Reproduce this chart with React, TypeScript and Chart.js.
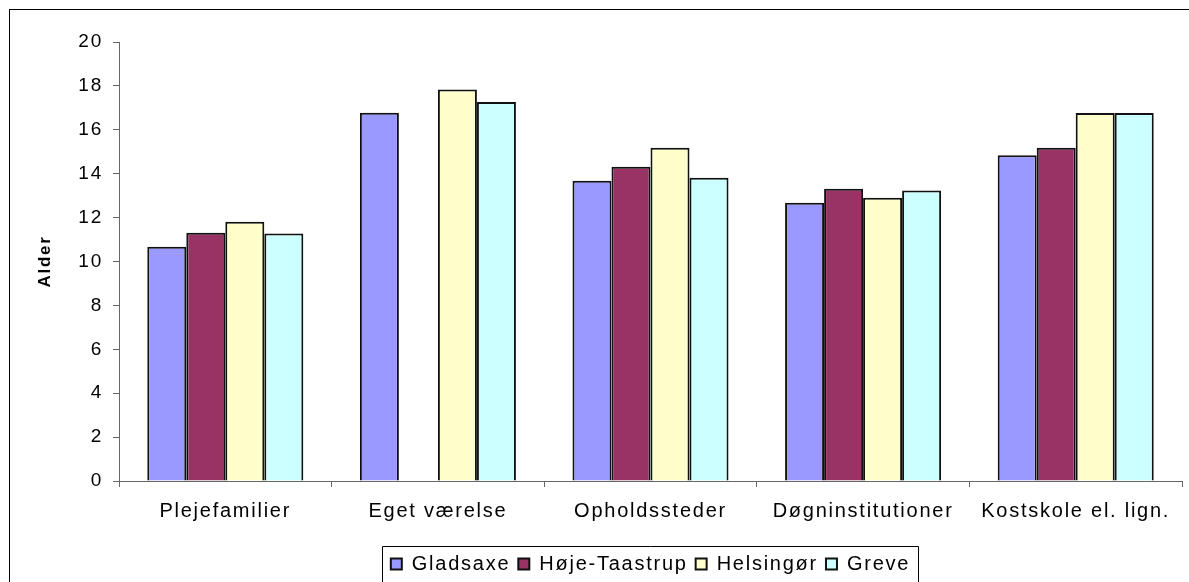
import React, { useEffect, useRef } from 'react';
import { Chart, registerables } from 'chart.js';

Chart.register(...registerables);

const categories = ['Plejefamilier', 'Eget værelse', 'Opholdssteder', 'Døgninstitutioner', 'Kostskole el. lign.'];
const seriesNames = ['Gladsaxe', 'Høje-Taastrup', 'Helsingør', 'Greve'];
const gladsaxe = [10.67, 16.78, 13.68, 12.68, 14.84];
const hojeTaastrup = [11.31, null, 14.32, 13.32, 15.18];
const helsingor = [11.81, 17.84, 15.18, 12.91, 16.77];
const greve = [11.27, 17.27, 13.82, 13.24, 16.77];
const seriesColors = ['#9999FF', '#993366', '#FFFFCC', '#CCFFFF'];
const yMin = 0;
const yMax = 20;
const yStep = 2;
const yAxisTitle = 'Alder';

const FONT = "'Liberation Sans', Arial, sans-serif";
const W = 1300;
const H = 600;
const SPACING = '1.75px';

const spacingPlugin = {
  id: 'letterSpacingPlugin',
  beforeUpdate(chart: any) {
    (chart.ctx as any).letterSpacing = SPACING;
  },
  beforeLayout(chart: any) {
    (chart.ctx as any).letterSpacing = SPACING;
  },
  beforeDraw(chart: any) {
    (chart.ctx as any).letterSpacing = SPACING;
  },
};

const framePlugin = {
  id: 'framePlugin',
  afterDraw(chart: any) {
    const ctx = chart.ctx;
    ctx.save();
    ctx.strokeStyle = '#000';
    ctx.lineWidth = 1;
    ctx.strokeRect(9.5, 9.5, chart.width + 20, chart.height + 20);
    const lg = chart.legend;
    const hb = lg.legendHitBoxes;
    if (hb && hb.length) {
      const last = hb[hb.length - 1];
      const l = Math.round(hb[0].left - 9) + 0.5;
      const r = Math.round(last.left + last.width + 8) + 0.5;
      const t = Math.round(lg.top) + 0.5;
      ctx.beginPath();
      ctx.moveTo(l, chart.height + 5);
      ctx.lineTo(l, t);
      ctx.lineTo(r, t);
      ctx.lineTo(r, chart.height + 5);
      ctx.stroke();
    }
    ctx.restore();
  },
};

export default function App() {
  const ref = useRef<HTMLCanvasElement | null>(null);

  useEffect(() => {
    if (!ref.current) return;
    const seriesData = [gladsaxe, hojeTaastrup, helsingor, greve];
    const chart = new Chart(ref.current, {
      type: 'bar',
      data: {
        labels: categories,
        datasets: seriesNames.map((name, i) => ({
          label: name,
          data: seriesData[i] as any,
          backgroundColor: seriesColors[i],
          borderColor: '#111',
          borderWidth: 2,
          categoryPercentage: 0.734,
          barPercentage: 1.0,
        })),
      },
      options: {
        responsive: false,
        animation: false,
        devicePixelRatio: 1,
        layout: { padding: { left: 9, right: W - 1182, top: 42, bottom: 16 } },
        plugins: {
          tooltip: { enabled: false },
          title: { display: false },
          legend: {
            display: true,
            position: 'bottom',
            fullSize: false,
            labels: {
              boxWidth: 11,
              boxHeight: 11,
              padding: 8,
              color: '#000',
              font: { family: FONT, size: 20 },
            },
          },
        },
        scales: {
          x: {
            afterFit: (s: any) => { s.height = 65; },
            grid: {
              display: true,
              offset: true,
              drawOnChartArea: false,
              drawTicks: true,
              tickLength: 6,
              color: '#666',
            },
            border: { display: true, color: '#666', width: 1 },
            ticks: {
              color: '#000',
              padding: 12,
              maxRotation: 0,
              autoSkip: false,
              font: { family: FONT, size: 20 },
            },
          },
          y: {
            min: yMin,
            max: yMax,
            afterFit: (s: any) => { s.width = 110; },
            grid: {
              display: true,
              drawOnChartArea: false,
              drawTicks: true,
              tickLength: 6,
              color: '#666',
            },
            border: { display: true, color: '#666', width: 1 },
            ticks: {
              stepSize: yStep,
              color: '#000',
              padding: 10,
              font: { family: FONT, size: 19 },
            },
            title: {
              display: true,
              text: yAxisTitle,
              color: '#000',
              padding: { top: 26, bottom: 0 },
              font: { family: FONT, size: 17, weight: 'bold' },
            },
          },
        },
      },
      plugins: [spacingPlugin, framePlugin],
    });
    return () => chart.destroy();
  }, []);

  return (
    <div style={{ position: 'fixed', left: 0, top: 0, width: 1189, height: 582, overflow: 'hidden', background: '#fff' }}>
      <canvas ref={ref} width={W} height={H} style={{ display: 'block' }} />
    </div>
  );
}
